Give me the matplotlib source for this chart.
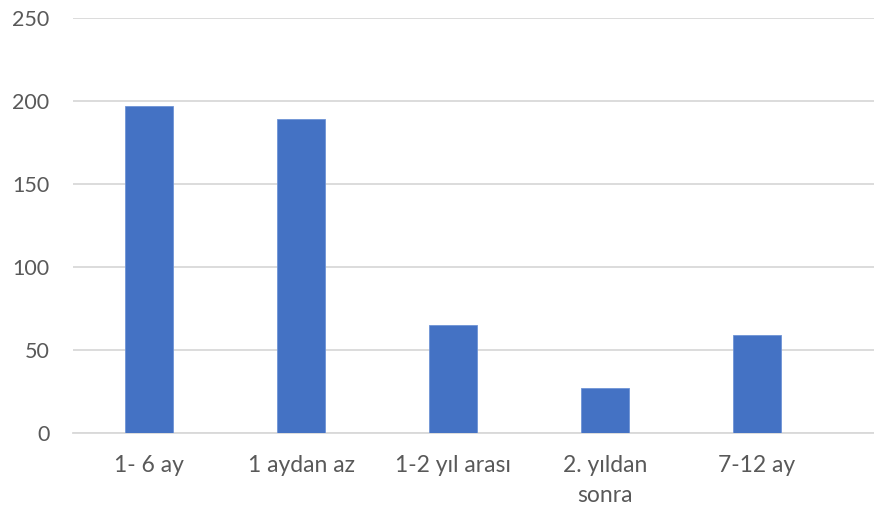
import matplotlib
matplotlib.use("Agg")
import matplotlib.pyplot as plt

categories = ["1- 6 ay", "1 aydan az", "1-2 yıl arası", "2. yıldan\nsonra", "7-12 ay"]
values = [197, 189, 65, 27, 59]
y_ticks = [0, 50, 100, 150, 200, 250]

BAR_COLOR = "#4472C4"
GRID_COLOR = "#D9D9D9"
TEXT_COLOR = "#595959"

plt.rcParams["font.family"] = ["Lato", "DejaVu Sans"]


def main():
    fig = plt.figure(figsize=(8.74, 5.16), dpi=100)
    ax = fig.add_axes([73 / 874, 1 - 433 / 516, 1 - 73 / 874, (433 - 18) / 516])

    x = list(range(len(categories)))
    ax.bar(x, values, width=0.31, color=BAR_COLOR, edgecolor="#6E93D6",
           linewidth=0.6, zorder=3)

    ax.set_ylim(0, 250)
    ax.set_xlim(-0.5, -0.5 + (874 - 73) / 152)
    ax.set_yticks(y_ticks)
    ax.set_xticks(x)
    ax.set_xticklabels(categories, linespacing=1.5)

    ax.yaxis.grid(True, color=GRID_COLOR, linewidth=1.3, zorder=0)
    ax.set_axisbelow(True)
    for side in ["top", "right", "left"]:
        ax.spines[side].set_visible(False)
    ax.spines["bottom"].set_color(GRID_COLOR)
    ax.spines["bottom"].set_linewidth(1.3)

    ax.tick_params(axis="y", length=0, pad=17, labelsize=15.5, labelcolor=TEXT_COLOR)
    ax.tick_params(axis="x", length=0, pad=16, labelsize=16.5, labelcolor=TEXT_COLOR)

    fig.savefig("out.png", dpi=100)
    plt.close(fig)


if __name__ == "__main__":
    main()
